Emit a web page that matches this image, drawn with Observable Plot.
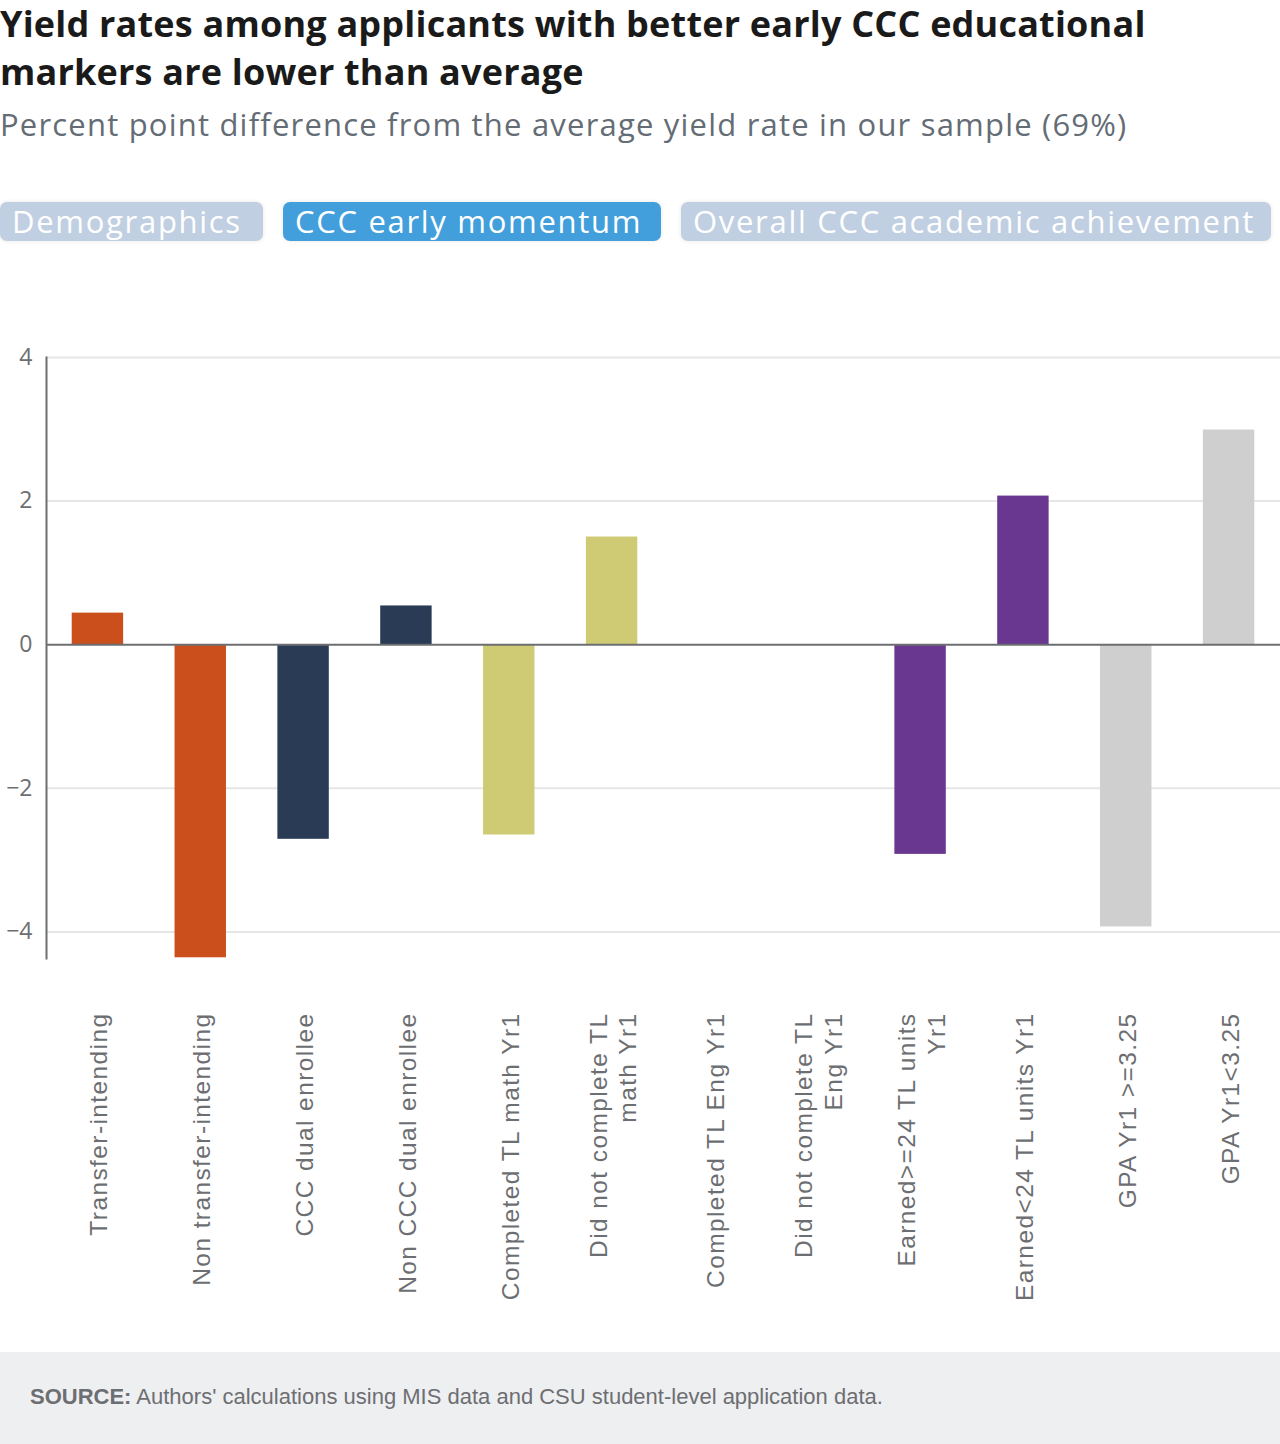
<!DOCTYPE html>
<html>
<head>
<meta charset="utf-8">
<script src="https://cdn.jsdelivr.net/npm/d3@7"></script>
<script src="https://cdn.jsdelivr.net/npm/@observablehq/plot@0.6"></script>
<style>
  body { margin: 0; background: #fff; width: 1280px; height: 1444px; position: relative; overflow: hidden; font-family: "Open Sans", Lato, sans-serif; }
  #title { position: absolute; left: 0; top: 0; font-weight: 700; font-size: 36px; letter-spacing: 0.2px; line-height: 48px; color: #1a1a1a; white-space: nowrap; }
  #subtitle { position: absolute; left: 0; top: 104px; font-size: 31px; letter-spacing: 1.2px; line-height: 40px; color: #646c75; white-space: nowrap; }
  .tab { position: absolute; top: 202px; height: 39px; border-radius: 7px; color: #fff; font-size: 31px; letter-spacing: 1.7px; line-height: 39px; padding-left: 12px; box-sizing: border-box; white-space: nowrap; box-shadow: 0 0 4px rgba(0,0,0,0.10); }
  #chart { position: absolute; left: 0; top: 300px; }
  #chart g[aria-label="text"] text { letter-spacing: 1.4px; }
  #footer { position: absolute; left: 0; top: 1352px; width: 1280px; height: 92px; background: #eeeff1; }
  #footer p { position: absolute; left: 30px; top: 32px; margin: 0; font-family: "Liberation Sans", Arial, sans-serif; font-size: 22px; color: #6d6e71; white-space: nowrap; }
</style>
</head>
<body>
<div id="title">Yield rates among applicants with better early CCC educational<br>markers are lower than average</div>
<div id="subtitle">Percent point difference from the average yield rate in our sample (69%)</div>
<div class="tab" style="left:0;width:263px;background:#c1cfe2">Demographics</div>
<div class="tab" style="left:283px;width:378px;background:#429fdc">CCC early momentum</div>
<div class="tab" style="left:681px;width:590px;background:#c1cfe2">Overall CCC academic achievement</div>
<div id="chart"></div>
<div id="footer"><p><b>SOURCE:</b> Authors' calculations using MIS data and CSU student-level application data.</p></div>
<script>
// Applicant subgroups, in display order
const categories = [
  "Transfer-intending",
  "Non transfer-intending",
  "CCC dual enrollee",
  "Non CCC dual enrollee",
  "Completed TL math Yr1",
  "Did not complete TL\nmath Yr1",
  "Completed TL Eng Yr1",
  "Did not complete TL\nEng Yr1",
  "Earned>=24 TL units\nYr1",
  "Earned<24 TL units Yr1",
  "GPA Yr1 >=3.25",
  "GPA Yr1<3.25"
];

// Percentage-point difference from the 69% average yield rate (no value for the English pair)
const values = [0.44, -4.36, -2.71, 0.54, -2.65, 1.50, null, null, -2.92, 2.07, -3.93, 2.99];

// Marker each pair of subgroups belongs to
const groups = [
  "Transfer intent", "Transfer intent",
  "Dual enrollment", "Dual enrollment",
  "Math", "Math",
  "English", "English",
  "Units", "Units",
  "GPA", "GPA"
];
const groupNames = ["Transfer intent", "Dual enrollment", "Math", "English", "Units", "GPA"];
const palette = ["#ca4f1c", "#293b55", "#cecb74", "#8aa4c8", "#69378f", "#cfcfcf"];

const yTicks = [-4, -2, 0, 2, 4];

const rows = categories.map((label, i) => ({label, value: values[i], group: groups[i]}));

const axisGray = "#6d6e71";

const chart = Plot.plot({
  width: 1280,
  height: 1052,
  marginTop: 57,
  marginBottom: 394,
  marginLeft: 46,
  marginRight: 0,
  style: {background: "transparent", overflow: "visible"},
  x: {domain: categories, paddingInner: 0.5, paddingOuter: 0.25, round: false, axis: null},
  y: {domain: [-4.37, 4], axis: null},
  color: {domain: groupNames, range: palette},
  marks: [
    Plot.gridY(yTicks.filter(d => d !== 0), {stroke: "#e6e6e6", strokeOpacity: 1, strokeWidth: 2}),
    Plot.barY(rows, {x: "label", y: "value", fill: "group"}),
    Plot.ruleY([0], {stroke: axisGray, strokeWidth: 2}),
    Plot.frame({anchor: "left", stroke: axisGray, strokeWidth: 2}),
    Plot.axisY(yTicks, {
      label: null, tickSize: 0, tickPadding: 14, tickFormat: d3.format("d"),
      fontSize: 23, fontFamily: "Open Sans, sans-serif", color: axisGray
    }),
    Plot.text(rows, {
      x: "label", text: "label", frameAnchor: "bottom", dy: 54,
      rotate: -90, textAnchor: "end", lineAnchor: "middle", lineHeight: 1.2,
      fontSize: 24.5, fontFamily: "Liberation Sans, Arial, sans-serif", fill: axisGray
    })
  ]
});

document.getElementById("chart").appendChild(chart);
</script>
</body>
</html>
